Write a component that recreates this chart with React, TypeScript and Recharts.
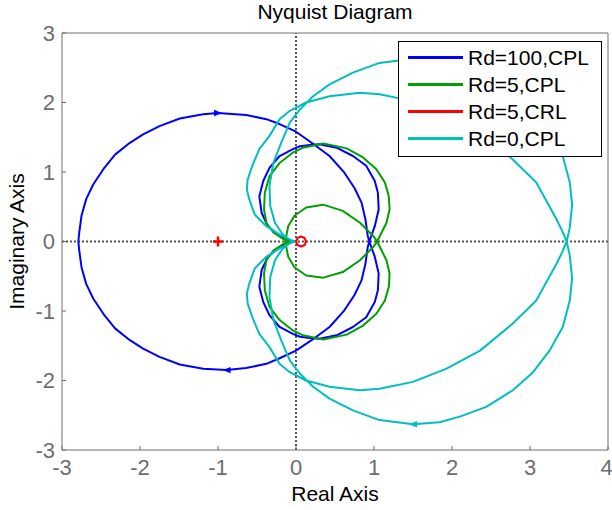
import { ScatterChart, Scatter, XAxis, YAxis, ReferenceLine, Legend } from 'recharts';

// Nyquist curves, traced in frequency order ([re, im] pairs)
const rd100Cpl = [
  [-0.02, 0], [-0.08, 0.01], [-0.21, 0.08], [-0.36, 0.22], [-0.44, 0.41], [-0.47, 0.65], [-0.42, 0.87],
  [-0.34, 1.06], [-0.21, 1.23], [-0.04, 1.33], [0.05, 1.37], [0.18, 1.39], [0.3, 1.4], [0.52, 1.35],
  [0.73, 1.23], [0.9, 1.09], [1.01, 0.87], [1.05, 0.7], [1.06, 0.46], [1.01, 0.22], [0.94, 0],
  [0.92, -0.08], [0.89, -0.32], [0.84, -0.56], [0.75, -0.77], [0.62, -0.99], [0.43, -1.23], [0.2, -1.42],
  [0, -1.57], [-0.21, -1.68], [-0.38, -1.76], [-0.64, -1.82], [-0.89, -1.85], [-1.19, -1.83], [-1.49, -1.77],
  [-1.75, -1.66], [-1.96, -1.54], [-2.13, -1.42], [-2.32, -1.25], [-2.47, -1.04], [-2.6, -0.82], [-2.69, -0.61],
  [-2.75, -0.37], [-2.78, -0.12], [-2.79, 0], [-2.78, 0.12], [-2.75, 0.37], [-2.69, 0.61], [-2.6, 0.82],
  [-2.47, 1.04], [-2.32, 1.25], [-2.13, 1.42], [-1.96, 1.54], [-1.75, 1.66], [-1.49, 1.77], [-1.19, 1.83],
  [-1.0, 1.85], [-0.64, 1.82], [-0.38, 1.76], [-0.21, 1.69], [0, 1.58], [0.2, 1.42], [0.43, 1.23],
  [0.62, 0.99], [0.75, 0.77], [0.84, 0.56], [0.89, 0.32], [0.92, 0.08], [0.94, 0], [1.01, -0.22],
  [1.06, -0.46], [1.05, -0.7], [1.01, -0.87], [0.9, -1.09], [0.73, -1.23], [0.52, -1.35], [0.3, -1.4],
  [0.18, -1.39], [0.05, -1.37], [-0.04, -1.33], [-0.21, -1.23], [-0.34, -1.06], [-0.42, -0.87], [-0.47, -0.65],
  [-0.44, -0.41], [-0.36, -0.22], [-0.21, -0.08], [-0.08, -0.01], [-0.02, 0],
];

const rd5Cpl = [
  [-0.02, 0], [-0.06, 0], [-0.17, 0.04], [-0.29, 0.13], [-0.38, 0.27], [-0.41, 0.46], [-0.4, 0.7],
  [-0.34, 0.94], [-0.21, 1.13], [-0.04, 1.28], [0.09, 1.35], [0.35, 1.41], [0.65, 1.34], [0.86, 1.21],
  [1.03, 1.04], [1.14, 0.85], [1.19, 0.65], [1.2, 0.46], [1.16, 0.27], [1.04, 0], [0.99, -0.08],
  [0.82, -0.27], [0.6, -0.44], [0.35, -0.52], [0.13, -0.49], [-0.02, -0.37], [-0.1, -0.22], [-0.13, -0.05],
  [-0.14, 0], [-0.13, 0.05], [-0.1, 0.22], [-0.02, 0.37], [0.13, 0.49], [0.35, 0.53], [0.6, 0.44],
  [0.82, 0.27], [0.99, 0.08], [1.04, 0], [1.16, -0.27], [1.2, -0.46], [1.19, -0.65], [1.14, -0.85],
  [1.03, -1.04], [0.86, -1.21], [0.65, -1.34], [0.35, -1.41], [0.09, -1.35], [-0.04, -1.28], [-0.21, -1.13],
  [-0.34, -0.94], [-0.4, -0.7], [-0.41, -0.46], [-0.38, -0.27], [-0.29, -0.13], [-0.17, -0.04], [-0.06, 0],
  [-0.02, 0],
];

const rd5Crl = [
  [0.129, 0], [0.11, 0.051], [0.065, 0.072], [0.02, 0.051], [0.001, 0], [0.02, -0.051], [0.065, -0.072],
  [0.11, -0.051], [0.129, 0],
];

const rd0Cpl = [
  [-0.02, 0], [-0.06, 0.01], [-0.17, 0.1], [-0.27, 0.27], [-0.33, 0.51], [-0.34, 0.8], [-0.29, 1.13],
  [-0.19, 1.42], [-0.08, 1.71], [0.05, 1.9], [0.22, 2.09], [0.43, 2.26], [0.73, 2.43], [1.07, 2.57],
  [1.5, 2.63], [1.84, 2.6], [2.1, 2.52], [2.44, 2.38], [2.78, 2.14], [3.04, 1.88], [3.25, 1.57],
  [3.42, 1.23], [3.51, 0.85], [3.54, 0.53], [3.51, 0.2], [3.47, 0], [3.41, -0.16], [3.34, -0.32], [3.08, -0.85], [2.78, -1.18],
  [2.36, -1.57], [1.93, -1.83], [1.5, -2.02], [1.07, -2.12], [0.82, -2.14], [0.43, -2.09], [0.13, -2.0],
  [-0.08, -1.88], [-0.21, -1.76], [-0.34, -1.52], [-0.47, -1.33], [-0.56, -1.09], [-0.62, -0.89], [-0.63, -0.75],
  [-0.6, -0.61], [-0.53, -0.39], [-0.38, -0.22], [-0.21, -0.1], [-0.04, -0.01], [-0.02, 0], [-0.04, 0.01],
  [-0.21, 0.1], [-0.38, 0.22], [-0.53, 0.39], [-0.6, 0.61], [-0.63, 0.75], [-0.62, 0.89], [-0.56, 1.09],
  [-0.47, 1.33], [-0.34, 1.52], [-0.21, 1.76], [-0.08, 1.88], [0.13, 2.0], [0.43, 2.09], [0.82, 2.14],
  [1.07, 2.12], [1.5, 2.02], [1.93, 1.83], [2.36, 1.57], [2.78, 1.18], [3.08, 0.85], [3.34, 0.32], [3.41, 0.16],
  [3.47, 0], [3.51, -0.2], [3.54, -0.53], [3.51, -0.85], [3.42, -1.23], [3.25, -1.57], [3.04, -1.88], [2.78, -2.14],
  [2.44, -2.38], [2.1, -2.52], [1.84, -2.6], [1.5, -2.63], [1.07, -2.57], [0.73, -2.43], [0.43, -2.26],
  [0.22, -2.09], [0.05, -1.9], [-0.08, -1.71], [-0.19, -1.42], [-0.29, -1.13], [-0.34, -0.8], [-0.33, -0.51],
  [-0.27, -0.27], [-0.17, -0.1], [-0.06, -0.01], [-0.02, 0],
];

// direction arrows: dir 1 = pointing right, -1 = pointing left
const rd100Arrows = [
  { x: -1.0, y: 1.85, dir: 1 },
  { x: -0.89, y: -1.85, dir: -1 },
];
const rd0Arrows = [{ x: 1.5, y: -2.63, dir: -1 }];

const criticalPoint = [{ x: -1, y: 0 }];

const xTicks = [-3, -2, -1, 0, 1, 2, 3, 4];
const yTicks = [-3, -2, -1, 0, 1, 2, 3];

const BLUE = '#0000ff';
const GREEN = '#00a000';
const RED = '#ff0000';
const CYAN = '#00bfbf';
const AXIS = '#6e6e6e';
const FONT = '"Liberation Sans", Arial, Helvetica, sans-serif';

// legend rows, in plotting order
const seriesList = [
  { name: 'Rd=100,CPL', color: BLUE, rows: rd100Cpl },
  { name: 'Rd=5,CPL', color: GREEN, rows: rd5Cpl },
  { name: 'Rd=5,CRL', color: RED, rows: rd5Crl },
  { name: 'Rd=0,CPL', color: CYAN, rows: rd0Cpl },
];

const toPts = (rows: number[][]) => rows.map(([x, y]) => ({ x, y }));

const NoMarker = () => <g />;

const ArrowHead = (props: any) => {
  const { cx, cy, payload, fill } = props;
  const d = payload.dir;
  const tip = cx + 4 * d;
  const base = cx - 4 * d;
  return <polygon points={`${tip},${cy} ${base},${cy - 3.2} ${base},${cy + 3.2}`} fill={fill} />;
};

const PlusMark = (props: any) => {
  const { cx, cy } = props;
  return (
    <g stroke={RED} strokeWidth={2.5}>
      <line x1={cx - 5} y1={cy} x2={cx + 5} y2={cy} />
      <line x1={cx} y1={cy - 5} x2={cx} y2={cy + 5} />
    </g>
  );
};

const renderLegend = () => (
  <div
    style={{
      boxSizing: 'border-box',
      width: 204,
      height: 116,
      border: '1px solid #000',
      background: '#fff',
      paddingTop: 2,
      fontFamily: FONT,
    }}
  >
    {seriesList.map((s) => (
      <div key={s.name} style={{ display: 'flex', alignItems: 'center', height: 27.1 }}>
        <span style={{ marginLeft: 9, width: 55, height: 3, background: s.color }} />
        <span style={{ marginLeft: 5, fontSize: 21, lineHeight: '21px', color: '#000' }}>{s.name}</span>
      </div>
    ))}
  </div>
);

export default function App() {
  return (
    <div style={{ position: 'absolute', left: 0, top: 0, width: 612, height: 510, background: '#fff', fontFamily: FONT }}>
      <div style={{ position: 'absolute', left: 62, width: 546, top: 0, textAlign: 'center', fontSize: 21, color: '#000' }}>
        Nyquist Diagram
      </div>
      <ScatterChart width={612} height={510} margin={{ top: 32, right: 3, bottom: 0, left: 0 }}>
        <XAxis
          type="number"
          dataKey="x"
          domain={[-3, 4]}
          ticks={xTicks}
          allowDataOverflow
          height={60}
          stroke={AXIS}
          tickSize={-4}
          tickMargin={13}
          tick={{ fill: AXIS, fontSize: 22, fontFamily: FONT }}
          label={{ value: 'Real Axis', position: 'insideBottom', offset: 9, fill: '#000', fontSize: 21, fontFamily: FONT }}
        />
        <XAxis
          xAxisId="top"
          orientation="top"
          type="number"
          domain={[-3, 4]}
          ticks={xTicks}
          allowDataOverflow
          height={1}
          stroke={AXIS}
          tickSize={-4}
          tick={false}
        />
        <YAxis
          type="number"
          dataKey="y"
          domain={[-3, 3]}
          ticks={yTicks}
          allowDataOverflow
          width={62}
          stroke={AXIS}
          tickSize={-4}
          tickMargin={11}
          tick={{ fill: AXIS, fontSize: 22, fontFamily: FONT }}
          label={{
            value: 'Imaginary Axis',
            angle: -90,
            position: 'insideLeft',
            offset: 17,
            fill: '#000',
            fontSize: 21,
            fontFamily: FONT,
            style: { textAnchor: 'middle' },
          }}
        />
        <YAxis
          yAxisId="right"
          orientation="right"
          type="number"
          domain={[-3, 3]}
          ticks={yTicks}
          allowDataOverflow
          width={1}
          stroke={AXIS}
          tickSize={-4}
          tick={false}
        />
        <ReferenceLine x={0} stroke="#555" strokeWidth={2} strokeDasharray="2 2" />
        <ReferenceLine y={0} stroke="#555" strokeWidth={2} strokeDasharray="2 2" />

        {seriesList.map((s) => (
          <Scatter
            key={s.name}
            name={s.name}
            data={toPts(s.rows)}
            fill={s.color}
            line={{ stroke: s.color, strokeWidth: 2, strokeLinejoin: 'round' }}
            shape={NoMarker}
            isAnimationActive={false}
          />
        ))}

        <Scatter data={rd100Arrows} fill={BLUE} shape={ArrowHead} legendType="none" isAnimationActive={false} />
        <Scatter data={rd0Arrows} fill={CYAN} shape={ArrowHead} legendType="none" isAnimationActive={false} />
        <Scatter data={criticalPoint} fill={RED} shape={PlusMark} legendType="none" isAnimationActive={false} />

        <Legend
          layout="vertical"
          align="center"
          verticalAlign="middle"
          content={renderLegend}
          wrapperStyle={{ left: 398, top: 41, width: 204, height: 116 }}
        />
      </ScatterChart>
    </div>
  );
}
